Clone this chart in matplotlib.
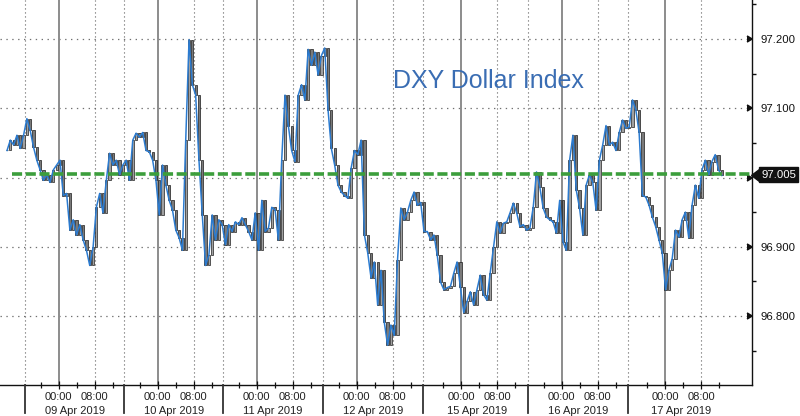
import numpy as np
import matplotlib
matplotlib.use("Agg")
import matplotlib.pyplot as plt
from matplotlib.transforms import blended_transform_factory, ScaledTranslation

# ---------------- data ----------------
CLOSE = [97.039,97.054,97.047,97.061,97.042,97.061,97.085,97.068,97.044,97.025,97.011,96.996,97.004,96.993,97.011,97.018,97.025,96.974,96.977,96.924,96.939,96.917,96.932,96.910,96.895,96.873,96.899,96.957,96.977,96.949,96.996,97.035,97.018,97.025,97.004,97.018,97.025,96.996,97.054,97.064,97.058,97.065,97.039,97.037,97.025,96.996,96.946,97.018,96.989,96.967,96.953,96.924,
         96.913,96.895,97.054,97.199,97.134,97.119,97.025,96.946,96.873,96.888,96.946,96.910,96.939,96.932,96.903,96.932,96.922,96.936,96.932,96.942,96.932,96.922,96.910,96.949,96.895,96.967,96.922,96.927,96.957,96.953,96.910,97.025,97.119,97.075,97.039,97.023,97.119,97.134,97.112,97.185,97.162,97.181,97.148,97.176,97.187,97.098,97.042,97.018,96.989,96.979,96.974,96.970,97.014,97.039,97.033,97.054,96.917,96.891,96.855,96.878,96.816,96.866,96.791,96.758,96.787,96.772,96.881,96.956,96.939,96.950,96.967,96.979,96.960,96.964,96.922,96.922,96.910,96.917,96.888,96.849,96.838,96.841,96.843,96.862,96.878,96.842,96.805,96.821,96.835,96.816,96.838,96.859,96.831,96.823,96.862,96.899,96.936,96.920,96.934,96.936,96.949,96.963,96.949,96.929,96.932,96.924,96.927,96.957,97.008,96.986,96.956,96.943,96.939,96.936,96.920,96.967,96.907,96.895,97.025,97.061,96.982,96.956,96.917,96.989,97.004,96.993,96.953,97.025,97.047,97.075,97.047,97.051,97.039,97.065,97.083,97.071,97.073,97.112,97.098,97.065,96.974,96.972,96.960,96.943,96.929,96.910,96.891,96.838,96.866,96.883,96.924,96.914,96.939,96.950,96.913,96.960,96.989,96.970,97.011,97.025,97.004,97.023,97.033,97.011,97.003]
LAST_PRICE = 97.005
TITLE = "DXY Dollar Index"
DATES = ["09 Apr 2019", "10 Apr 2019", "11 Apr 2019", "12 Apr 2019",
         "15 Apr 2019", "16 Apr 2019", "17 Apr 2019"]
HOUR_LABELS = ["00:00", "08:00"]
Y_TICKS = [96.8, 96.9, 97.0, 97.1, 97.2]

# ---------------- layout (session-hour axis) ----------------
MIDNIGHT_H = [13.04, 35.04, 57.04, 79.27, 102.44, 124.82, 147.78]
BOUND_H = [5.56, 27.56, 49.56, 71.78, 94.0, 117.33, 139.49]
X_START, X_END = 1.56, 160.4
XLIM = (0, 167.1)
YLIM = (96.7004, 97.2563)

plt.rcParams['font.family'] = ['Liberation Sans', 'DejaVu Sans']

fig = plt.figure(figsize=(8.0, 4.16), dpi=100)
ax = fig.add_axes([0.0, 31/416, 752/800, 385/416])
ax.set_xlim(*XLIM)
ax.set_ylim(*YLIM)

close = np.array(CLOSE)
n = len(close)
x = np.linspace(X_START, X_END, n)

# grid
for yv in Y_TICKS:
    ax.axhline(yv, color='#707070', lw=0.9, ls=(0, (1.1, 3.6)), zorder=1)
for m in MIDNIGHT_H:
    ax.axvline(m, color='#8c8c8c', lw=1.4, zorder=1)
    ax.axvline(m + 8, color='#606060', lw=0.8, ls=(0, (1.0, 2.6)), zorder=1)
for b in BOUND_H:
    ax.axvline(b, color='#606060', lw=0.8, ls=(0, (1.0, 2.6)), zorder=1)

# candles: body from previous close to close
opens = np.concatenate([[close[0]], close[:-1]])
body_lo = np.minimum(opens, close)
body_h = np.abs(close - opens)
up = close >= opens
ax.bar(x[up], body_h[up], bottom=body_lo[up], width=0.5,
       color='#a0a0a0', edgecolor='#222222', lw=0.5, zorder=2)
ax.bar(x[~up], body_h[~up], bottom=body_lo[~up], width=0.5,
       color='#7a7a7a', edgecolor='#1a1a1a', lw=0.5, zorder=2)
ax.plot(x, close, color='#2b7bd0', lw=1.1, zorder=3)

# last price dashed line
ax.axhline(LAST_PRICE, xmin=12/752, xmax=1.0, color='#3c9e3c', lw=2.6,
           ls=(0, (2.8, 1.0)), zorder=4)

# spines
for s in ['top', 'left']:
    ax.spines[s].set_visible(False)
ax.spines['right'].set_color('#111111')
ax.spines['right'].set_linewidth(1.0)
ax.spines['bottom'].set_color('#111111')
ax.spines['bottom'].set_linewidth(1.0)

# y axis on the right
ax.yaxis.tick_right()
ax.set_yticks(Y_TICKS)
ax.set_yticks([96.75, 96.85, 96.95, 97.05, 97.15, 97.25], minor=True)
ax.yaxis.set_major_formatter(matplotlib.ticker.FuncFormatter(
    lambda v, p: "" if abs(v - 97.0) < 1e-6 else f"{v:.3f}"))
ax.tick_params(axis='y', which='major', direction='out', length=4, width=1.2,
               pad=2, labelsize=8.2, colors='#111111')
ax.tick_params(axis='y', which='minor', direction='out', length=3, width=1.0,
               colors='#111111')
for t in ax.yaxis.get_major_ticks():
    t.tick2line.set_marker(5)
    t.tick2line.set_markersize(4.5)

# x axis
major_x = []
major_lbl = []
for m in MIDNIGHT_H:
    major_x += [m, m + 8]
    major_lbl += HOUR_LABELS
ax.set_xticks(major_x)
ax.set_xticklabels(major_lbl)
minor_x = []
for m in MIDNIGHT_H:
    minor_x += [m - 4, m + 4, m + 12]
ax.set_xticks(minor_x, minor=True)
ax.tick_params(axis='x', which='major', direction='inout', length=6, width=0.9,
               pad=2, labelsize=8.0, colors='#111111')
ax.tick_params(axis='x', which='minor', direction='inout', length=4, width=0.9,
               colors='#111111')
for lab in ax.get_xticklabels():
    lab.set_color('#222222')

trans = blended_transform_factory(ax.transData, ax.transAxes)
for m, d in zip(MIDNIGHT_H, DATES):
    ax.text(m + 3.6, -0.055, d, transform=trans, ha='center', va='top',
            fontsize=8.0, color='#222222')
for b in BOUND_H:
    ax.plot([b, b], [0, -0.073], transform=trans, color='#333333', lw=1.3,
            clip_on=False, zorder=5)

# title inside
ax.text(393/752, 1 - 81/385, TITLE, transform=ax.transAxes, ha='left',
        va='center', fontsize=18, color='#3a6db3')

# last price tag: box plus left-pointing notch
ytr = ax.get_yaxis_transform()
ax.annotate(f"{LAST_PRICE:.3f}", xy=(1.0, LAST_PRICE),
            xycoords=ytr, xytext=(6.5, -0.5),
            textcoords='offset points',
            ha='left', va='center', fontsize=8.2, color='white',
            bbox=dict(boxstyle='square,pad=0.22', fc='#111111', ec='#111111'),
            annotation_clip=False, zorder=6)
ax.plot([1.0], [LAST_PRICE], marker=8, markersize=8, color='#111111',
        transform=ytr + ScaledTranslation(5.0/72, -0.5/72, fig.dpi_scale_trans),
        clip_on=False, zorder=6)

fig.savefig("out.png", dpi=100)
